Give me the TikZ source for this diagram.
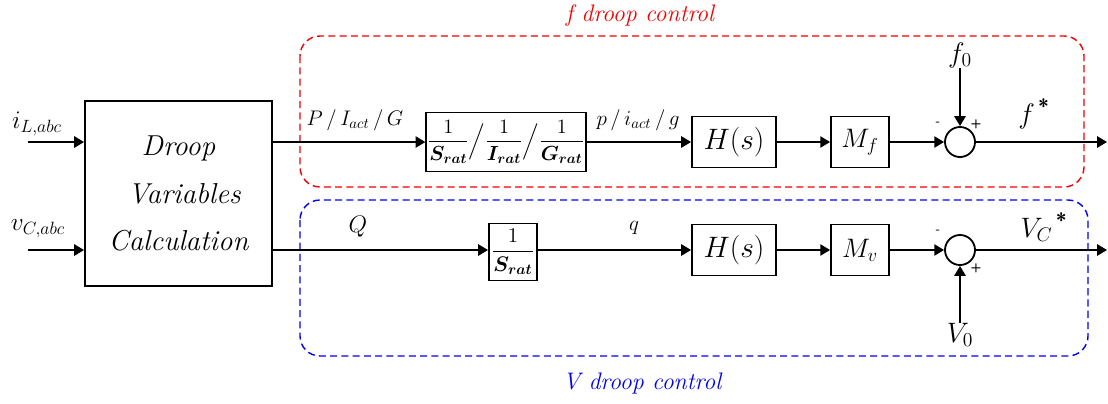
\RequirePackage{fix-cm}
\documentclass[tikz,border=0pt]{standalone}
\usepackage{amsmath,bm}
\usetikzlibrary{arrows.meta,positioning}
\definecolor{droopred}{RGB}{240,0,0}
\definecolor{droopblue}{RGB}{0,0,240}
\tikzset{
  blk/.style={draw, line width=1.3pt, inner sep=2pt, fill=white},
  hblk/.style={blk, minimum width=2.1cm, minimum height=1.275cm, font=\fontsize{21}{24}\selectfont},
  mblk/.style={blk, minimum width=1.45cm, minimum height=1.275cm, font=\fontsize{19}{22}\selectfont},
  sumnode/.style={circle, draw, line width=1.3pt, minimum size=0.75cm, inner sep=0pt},
  sig/.style={-{Triangle[length=7pt,width=8pt]}, line width=1.3pt},
  sgn/.style={font=\sffamily\bfseries\small, inner sep=0pt},
  lbl/.style={font=\fontsize{15}{18}\selectfont, inner sep=0pt},
  big/.style={font=\fontsize{20}{24}\selectfont, inner sep=0pt},
  zone/.style={dashed, dash pattern=on 5pt off 3pt, line width=1pt, rounded corners=0.5cm},
}
\begin{document}
\begin{tikzpicture}[x=0.025cm, y=-0.025cm]
  \useasboundingbox (0,0) rectangle (1108,403);
  % droop zones
  \draw[zone, droopred] (300,36) rectangle (1084,187);
  \draw[zone, droopblue] (300,200) rectangle (1088,356);
  \node[font=\fontsize{17}{20}\selectfont\itshape, droopred] (ftitle) at (640,16) {f droop control};
  \node[font=\fontsize{17}{20}\selectfont\itshape, droopblue] (vtitle) at (642,384) {V droop control};

  % measurement block
  \node[blk, minimum width=4.675cm, minimum height=4.625cm, align=center,
        font=\fontsize{20.5}{34}\selectfont\itshape] (dvc) at (178.5,193.5)
        {Droop\\ \hspace{0.4em}Variables\\ Calculation};
  \coordinate (iin) at (28,142);
  \coordinate (vin) at (28,250);
  \node[font=\fontsize{18}{20}\selectfont] (ilbl) at (37,124) {$i_{L,abc}$};
  \node[font=\fontsize{18}{20}\selectfont] (vlbl) at (38,229) {$v_{C,abc}$};
  \draw[sig] (iin) -- (iin -| dvc.west);
  \draw[sig] (vin) -- (vin -| dvc.west);

  % f droop path
  \node[blk, inner sep=1pt, minimum width=3.975cm, minimum height=1.475cm, font=\fontsize{14.5}{18}\selectfont] (frac) at (506,142)
        {$\dfrac{1}{\bm{S}_{\bm{rat}}}\Big/\dfrac{1}{\bm{I}_{\bm{rat}}}\Big/\dfrac{1}{\bm{G}_{\bm{rat}}}$};
  \node[hblk] (hf) at (734,142) {$H(s)$};
  \node[mblk] (mf) at (860,142) {$M_f$};
  \node[sumnode] (sf) at (960,142) {};
  \node[big] (f0) at (960,55) {$f_{0}$};
  \coordinate (fout) at (1107,142);
  \draw[sig] (dvc.east |- frac) -- (frac);
  \draw[sig] (frac) -- (hf);
  \draw[sig] (hf) -- (mf);
  \draw[sig] (mf) -- (sf);
  \draw[sig] (f0) -- (sf);
  \draw[sig] (sf) -- (fout);
  \node[lbl] (plbl) at (355,120) {$P\,/\,I_{act}\,/\,G$};
  \node[lbl] (qlbl) at (638,120) {$p\,/\,i_{act}\,/\,g$};
  \node[big] (fstar) at (1034,114) {$f^{\,\textsf{\bfseries *}}$};
  \node[sgn] (fm) at (938,124) {-};
  \node[sgn] (fp) at (976,124) {+};

  % V droop path
  \node[blk, minimum width=1.15cm, minimum height=1.425cm, font=\fontsize{15}{18}\selectfont] (srat) at (513,252)
        {$\dfrac{1}{\bm{S}_{\bm{rat}}}$};
  \node[hblk] (hv) at (734,250) {$H(s)$};
  \node[mblk] (mv) at (860,250) {$M_v$};
  \node[sumnode] (sv) at (960,250) {};
  \node[big] (v0) at (960,335) {$V_{0}$};
  \coordinate (vout) at (1107,250);
  \draw[sig] (dvc.east |- hv) -- (hv.west -| srat.west);
  \draw[sig] (srat.east |- hv) -- (hv);
  \draw[sig] (hv) -- (mv);
  \draw[sig] (mv) -- (sv);
  \draw[sig] (v0) -- (sv);
  \draw[sig] (sv) -- (vout);
  \node[font=\fontsize{17}{20}\selectfont] (Qlbl) at (358,227) {$Q$};
  \node[lbl] (qvlbl) at (634,228) {$q$};
  \node[big] (vstar) at (1044,227) {$V_{C}{}^{\,\textsf{\bfseries *}}$};
  \node[sgn] (vm) at (938,232) {-};
  \node[sgn] (vp) at (976,268) {+};
\end{tikzpicture}
\end{document}
